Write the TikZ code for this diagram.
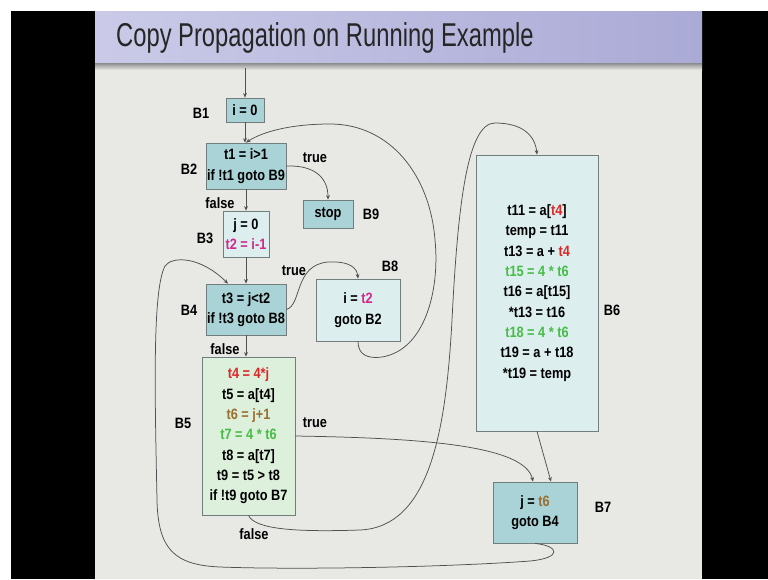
\documentclass[tikz,border=0pt]{standalone}
\usepackage{fontspec}
\setmainfont{Liberation Sans}[FakeStretch=0.85]
\newfontfamily\titlefont{Liberation Sans}[FakeStretch=0.72]
\usetikzlibrary{arrows.meta}

\definecolor{slidebg}{RGB}{232,233,229}
\definecolor{titleL}{RGB}{202,202,232}
\definecolor{titleR}{RGB}{170,170,214}
\definecolor{tealfill}{RGB}{169,211,214}
\definecolor{palefill}{RGB}{220,238,238}
\definecolor{greenfill}{RGB}{221,240,220}
\definecolor{boxline}{RGB}{115,125,125}
\definecolor{edgecol}{RGB}{80,80,80}
\definecolor{hlred}{RGB}{222,40,40}
\definecolor{hlmag}{RGB}{210,40,140}
\definecolor{hlbrown}{RGB}{155,110,50}
\definecolor{hlgreen}{RGB}{70,190,70}

\begin{document}
\begin{tikzpicture}[x=1pt,y=-1pt,
  blk/.style={draw=boxline, line width=0.8pt, inner sep=0pt, align=center,
    font=\bfseries\fontsize{15}{20.3}\selectfont},
  teal/.style={blk, fill=tealfill},
  pale/.style={blk, fill=palefill},
  greenbox/.style={blk, fill=greenfill},
  lbl/.style={inner sep=0pt, font=\bfseries\fontsize{15}{18}\selectfont},
  edge/.style={draw=edgecol, line width=0.75pt, -{Stealth[length=4.5pt,width=3.8pt]}}]

% slide frame
\useasboundingbox (0,0) rectangle (768,579);
\fill[white] (0,0) rectangle (768,579);
\fill[black] (11,11) rectangle (95,579);
\fill[black] (702,11) rectangle (768,579);
\fill[slidebg] (95,11) rectangle (702,579);
\shade[left color=titleL, right color=titleR] (95,11) rectangle (702,63);
\shade[top color=black!45, bottom color=slidebg] (95,63) rectangle (702,70);
\node[anchor=base west, inner sep=0pt, text=black!85,
  font=\titlefont\fontsize{33}{33}\selectfont] (title) at (116,46)
  {Copy Propagation on Running Example};

% basic blocks
\node[teal, minimum width=38pt, minimum height=24pt] (B1) at (245,110) {i = 0};
\node[teal, minimum width=80pt, minimum height=46pt] (B2) at (246,166)
  {t1 = i>1\\ if !t1 goto B9};
\node[teal, minimum width=50pt, minimum height=28pt] (B9) at (328,214) {stop};
\node[pale, minimum width=46pt, minimum height=46pt] (B3) at (246,234)
  {j = 0\\ \textcolor{hlmag}{t2 = i-1}};
\node[teal, minimum width=80pt, minimum height=51pt] (B4) at (246,309.5)
  {t3 = j<t2\\ if !t3 goto B8};
\node[pale, minimum width=84pt, minimum height=62pt] (B8) at (358,310)
  {i = \textcolor{hlmag}{t2}\\ goto B2};
\node[greenbox, minimum width=93pt, minimum height=158pt] (B5) at (248.5,436)
  {\textcolor{hlred}{t4 = 4*j}\\ t5 = a[t4]\\ \textcolor{hlbrown}{t6 = j+1}\\
   \textcolor{hlgreen}{t7 = 4 * t6}\\ t8 = a[t7]\\ t9 = t5 > t8\\ if !t9 goto B7};
\node[pale, minimum width=122pt, minimum height=276pt] (B6) at (537,293)
  {t11 = a[\textcolor{hlred}{t4}]\\ temp = t11\\ t13 = a + \textcolor{hlred}{t4}\\
   \textcolor{hlgreen}{t15 = 4 * t6}\\ t16 = a[t15]\\ {}*t13 = t16\\
   \textcolor{hlgreen}{t18 = 4 * t6}\\ t19 = a + t18\\ {}*t19 = temp};
\node[teal, minimum width=84pt, minimum height=61pt] (B7) at (535,512.5)
  {j = \textcolor{hlbrown}{t6}\\ goto B4};

% block names
\node[lbl] (nB1) at (201,113) {B1};
\node[lbl] (nB2) at (189,169) {B2};
\node[lbl] (nB9) at (371,214) {B9};
\node[lbl] (nB3) at (205,238) {B3};
\node[lbl] (nB4) at (189,310) {B4};
\node[lbl] (nB8) at (390,266) {B8};
\node[lbl] (nB5) at (183,423) {B5};
\node[lbl] (nB6) at (612,310) {B6};
\node[lbl] (nB7) at (603,507) {B7};

% branch labels
\node[lbl] (t2) at (315,158) {true};
\node[lbl] (f2) at (220,203) {false};
\node[lbl] (t4) at (294,271) {true};
\node[lbl] (f4) at (225,349) {false};
\node[lbl] (t5) at (315,423) {true};
\node[lbl] (f5) at (254,534) {false};

% control flow
\coordinate (entry) at (245,68);
\draw[edge] (entry) -- (B1.north);
\draw[edge] (B1.south) -- (B1.south |- B2.north);
\draw[edge] (B2.south) -- (B3.north);
\draw[edge] (B3.south) -- (B4.north);
\draw[edge] (B4.south) -- (B4.south |- B5.north);
\draw[edge] (B2.east) .. controls (315,165) and (328,178) .. (B9.north);
\draw[edge] (B4.east) .. controls (302,305) and (294,265) .. (328,262)
  .. controls (350,261) and (357,268) .. (B8.north);
\draw[edge] (B8.south) .. controls (358,355) and (368,359) .. (382,357)
  .. controls (425,350) and (440,290) .. (435,240)
  .. controls (430,175) and (390,124) .. (330,124)
  .. controls (290,124) and (262,132) .. (B2.north);
\draw[edge] (B5.east) .. controls (420,438) and (525,445) .. ([xshift=-2pt]B7.north);
\draw[edge] (B6.south) -- ([xshift=16pt]B7.north);
\draw[edge] (B5.south) .. controls (255,530) and (300,532) .. (360,530)
  .. controls (430,527) and (446,430) .. (452,320)
  .. controls (458,200) and (468,123) .. (495,123)
  .. controls (522,123) and (535,135) .. (B6.north);
\draw[edge] (B7.south) .. controls (560,546) and (562,558) .. (530,561)
  .. controls (450,567) and (300,570) .. (220,567)
  .. controls (175,565) and (158,550) .. (157,500)
  .. controls (155,400) and (152,290) .. (165,266)
  .. controls (172,256) and (200,256) .. ([xshift=-18pt]B4.north);
\end{tikzpicture}
\end{document}
